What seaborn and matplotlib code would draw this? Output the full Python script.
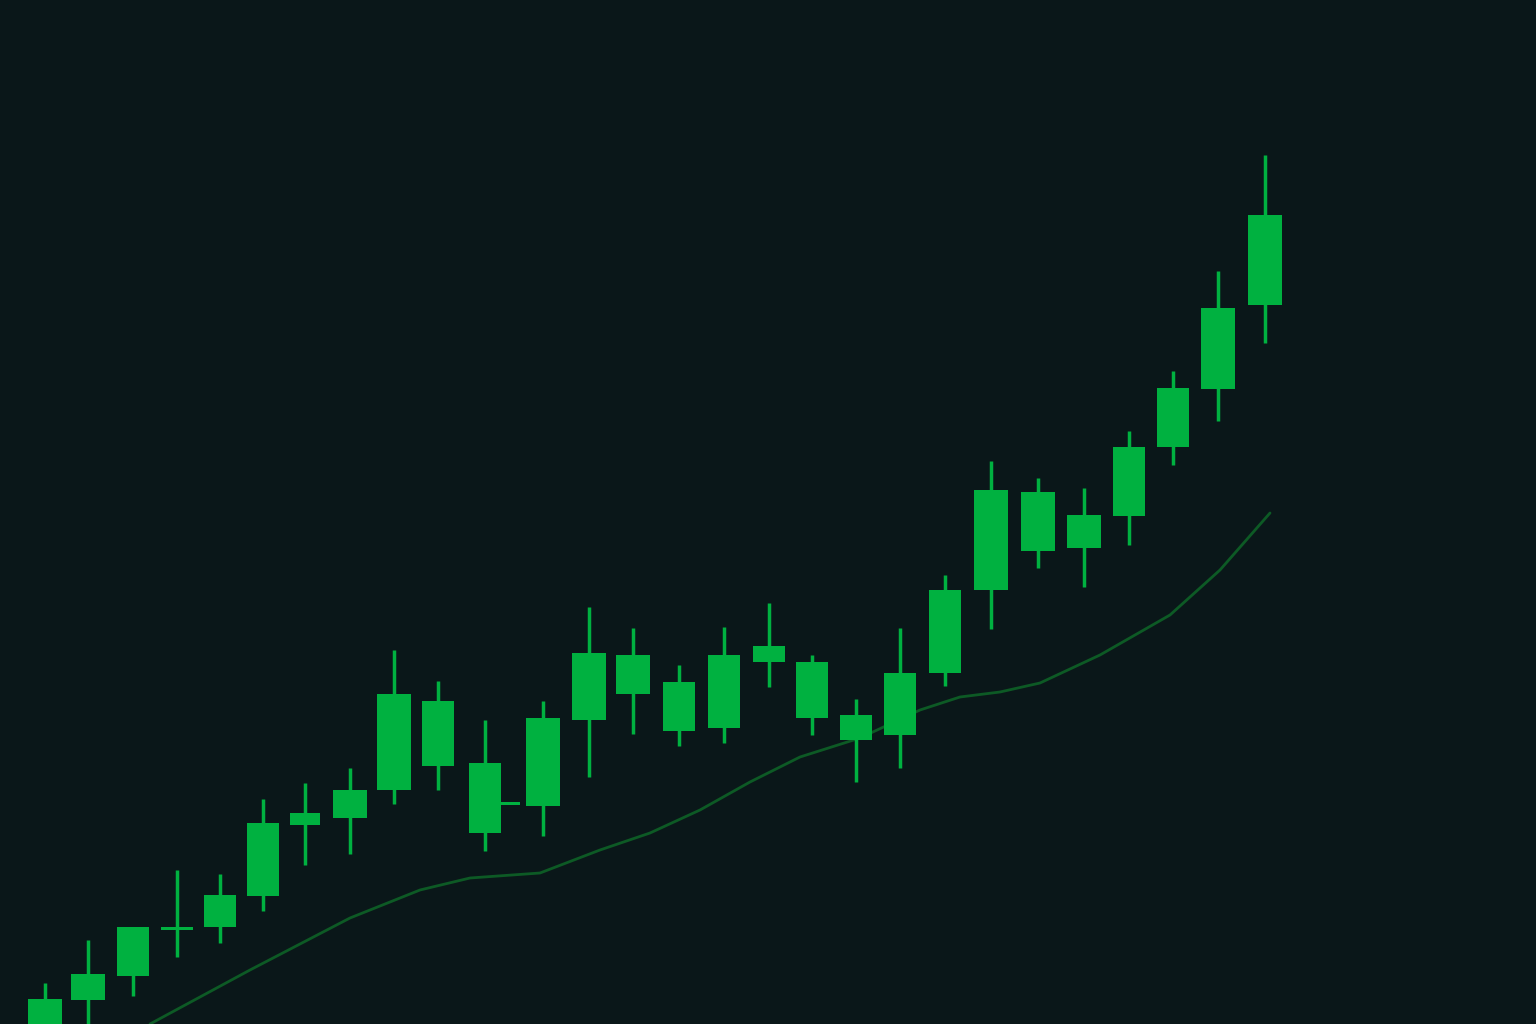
import numpy as np
import pandas as pd
import seaborn as sns
import matplotlib.pyplot as plt

# candle positions and values (price units, higher = up)
days   = [45, 88, 133, 177, 220, 263, 305, 350, 394, 438, 485, 507, 543, 589, 633, 679, 724, 769, 812, 856, 900, 945, 991, 1038, 1084, 1129, 1173, 1218, 1265]
opens  = [25, 24, 48, 94, 97, 128, 199, 206, 234, 258, 191, 219, 218, 304, 330, 293, 296, 362, 306, 284, 289, 351, 434, 473, 476, 508, 577, 635, 719]
closes = [0, 50, 97, 94, 129, 201, 211, 234, 330, 323, 261, 219, 306, 371, 369, 342, 369, 378, 362, 309, 351, 434, 534, 532, 509, 577, 636, 716, 809]
highs  = [41, 84, 97, 154, 150, 225, 241, 256, 374, 343, 304, 219, 323, 417, 396, 359, 397, 421, 369, 325, 396, 449, 563, 546, 536, 593, 653, 753, 869]
lows   = [0, 0, 28, 67, 81, 113, 159, 170, 220, 234, 173, 219, 188, 247, 290, 278, 281, 337, 289, 242, 256, 338, 395, 456, 437, 479, 559, 603, 681]
widths = [34, 34, 32, 32, 32, 32, 30, 34, 34, 32, 32, 26, 34, 34, 34, 32, 32, 32, 32, 32, 32, 32, 34, 34, 34, 32, 32, 34, 34]

ma_x = [150, 250, 350, 420, 470, 540, 600, 650, 700, 750, 800, 860, 920, 960, 1000, 1040, 1100, 1170, 1220, 1270]
ma_y = [0, 54, 106, 134, 146, 151, 174, 191, 214, 242, 267, 286, 314, 327, 332, 341, 369, 409, 454, 511]

bg = "#0a1719"
green = "#00b140"

sns.set_style("dark", {"axes.facecolor": bg, "figure.facecolor": bg})
fig = plt.figure(figsize=(15.36, 10.24), dpi=100)
ax = fig.add_axes([0, 0, 1, 1])
ax.set_facecolor(bg)

o = np.array(opens); c = np.array(closes)
ax.vlines(days, lows, highs, color=green, linewidth=2.5, zorder=2)
bottom = np.minimum(o, c)
height = np.maximum(np.abs(c - o), 3)
ax.bar(days, height, bottom=bottom, width=widths, color=green, edgecolor=green, linewidth=0, zorder=3)

ma = pd.DataFrame({"x": ma_x, "y": ma_y})
sns.lineplot(data=ma, x="x", y="y", ax=ax, color="#0d5a25", linewidth=2, zorder=1)

ax.set_xlim(0, 1536)
ax.set_ylim(0, 1024)
ax.set_axis_off()
fig.savefig("out.png", dpi=100, facecolor=bg)
